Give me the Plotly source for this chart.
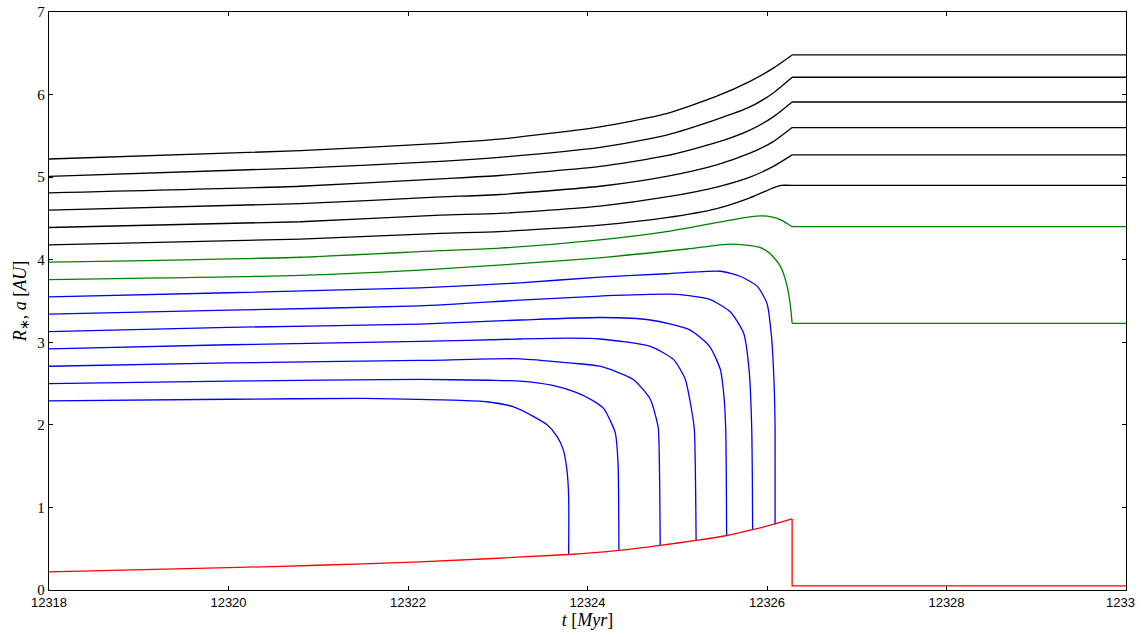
import plotly.graph_objects as go

# ---------------- data ----------------
x_ticks = [12318, 12320, 12322, 12324, 12326, 12328]
x_ticklabels = ["12318", "12320", "12322", "12324", "12326", "12328"]
last_tick_label = "1233"
y_ticks = [0, 1, 2, 3, 4, 5, 6, 7]

black_x = [12318, 12320.8, 12322.36, 12323.02, 12324.14, 12324.88, 12325.44, 12325.81, 12326.07, 12326.28, 12330]
black1_y = [5.22, 5.32, 5.41, 5.46, 5.61, 5.77, 5.98, 6.16, 6.32, 6.48, 6.48]
black2_y = [5.01, 5.11, 5.19, 5.24, 5.36, 5.51, 5.70, 5.85, 6.02, 6.21, 6.21]
black3_y = [4.81, 4.89, 4.98, 5.02, 5.13, 5.26, 5.42, 5.57, 5.73, 5.91, 5.91]
black4_y = [4.60, 4.68, 4.76, 4.79, 4.89, 5.01, 5.15, 5.29, 5.43, 5.60, 5.60]
black5_y = [4.39, 4.46, 4.54, 4.56, 4.65, 4.76, 4.88, 5.00, 5.13, 5.27, 5.27]
black6_x = [12318, 12320.8, 12322.36, 12323.02, 12324.14, 12324.88, 12325.44, 12325.81, 12326.07, 12326.16, 12326.28, 12330]
black6_y = [4.18, 4.25, 4.32, 4.34, 4.42, 4.51, 4.62, 4.75, 4.87, 4.90, 4.90, 4.90]

green1_x = [12318, 12320.8, 12322.36, 12323.02, 12324.14, 12324.88, 12325.44, 12325.81, 12325.94, 12326.05, 12326.16, 12326.28, 12330]
green1_y = [3.97, 4.03, 4.11, 4.14, 4.24, 4.34, 4.45, 4.52, 4.53, 4.52, 4.48, 4.40, 4.40]
green2_x = [12318, 12320.8, 12322.36, 12323.99, 12325.11, 12325.59, 12325.92, 12326.04, 12326.15, 12326.22, 12326.26, 12326.28, 12330]
green2_y = [3.76, 3.81, 3.89, 4.01, 4.13, 4.19, 4.15, 4.07, 3.92, 3.70, 3.45, 3.23, 3.23]

blue1_x = [12318, 12320, 12322.13, 12323.25, 12324.14, 12324.88, 12325.48, 12325.70, 12325.89, 12326.00, 12326.05, 12326.08, 12326.09, 12326.09]
blue1_y = [3.55, 3.60, 3.66, 3.72, 3.79, 3.83, 3.86, 3.80, 3.68, 3.47, 3.07, 2.47, 1.95, 0.80]
blue2_x = [12318, 12320, 12322.13, 12323.25, 12324.14, 12324.99, 12325.36, 12325.59, 12325.74, 12325.80, 12325.83, 12325.84]
blue2_y = [3.34, 3.39, 3.44, 3.51, 3.56, 3.58, 3.52, 3.37, 3.11, 2.67, 1.95, 0.73]
blue3_x = [12318, 12320, 12322.13, 12323.25, 12324.14, 12324.70, 12325.14, 12325.36, 12325.48, 12325.52, 12325.54, 12325.55]
blue3_y = [3.13, 3.18, 3.22, 3.27, 3.30, 3.27, 3.15, 2.95, 2.67, 2.35, 1.95, 0.66]
blue4_x = [12318, 12320, 12322.13, 12323.25, 12323.80, 12324.14, 12324.70, 12324.96, 12325.09, 12325.16, 12325.19, 12325.21]
blue4_y = [2.92, 2.97, 3.01, 3.04, 3.05, 3.04, 2.95, 2.79, 2.55, 2.18, 1.95, 0.60]
blue5_x = [12318, 12320, 12322.13, 12323.25, 12323.80, 12324.14, 12324.51, 12324.70, 12324.77, 12324.79, 12324.81]
blue5_y = [2.71, 2.75, 2.78, 2.80, 2.75, 2.71, 2.55, 2.31, 2.06, 1.95, 0.54]
blue6_x = [12318, 12320, 12322.13, 12322.90, 12323.25, 12323.60, 12323.88, 12324.05, 12324.18, 12324.25, 12324.31, 12324.34, 12324.35]
blue6_y = [2.50, 2.53, 2.55, 2.54, 2.53, 2.48, 2.39, 2.30, 2.20, 2.06, 1.90, 1.54, 0.48]
blue7_x = [12318, 12320, 12321.5, 12322.50, 12322.88, 12323.17, 12323.40, 12323.55, 12323.66, 12323.73, 12323.77, 12323.79, 12323.79]
blue7_y = [2.29, 2.31, 2.32, 2.30, 2.28, 2.22, 2.10, 2.00, 1.86, 1.70, 1.46, 1.14, 0.43]

red_x = [12318, 12320, 12321, 12322.13, 12323.79, 12324.35, 12324.81, 12325.21, 12325.55, 12325.84, 12326.09, 12326.28, 12326.28, 12330]
red_y = [0.22, 0.27, 0.30, 0.34, 0.43, 0.48, 0.54, 0.60, 0.66, 0.73, 0.80, 0.86, 0.05, 0.05]

BLACK, GREEN, BLUE, RED = "black", "#008000", "#0000ff", "#ff0000"

# ---------------- figure ----------------
fig = go.Figure()


def add(xs, ys, col, shape):
    fig.add_trace(go.Scatter(x=xs, y=ys, mode="lines",
                             line=dict(color=col, width=1.3, shape=shape, smoothing=0.6),
                             showlegend=False, hoverinfo="skip"))


# curves that end in a flat plateau: smooth part + straight plateau
for xs, ys, col in [(black_x, black1_y, BLACK), (black_x, black2_y, BLACK), (black_x, black3_y, BLACK),
                    (black_x, black4_y, BLACK), (black_x, black5_y, BLACK), (black6_x, black6_y, BLACK),
                    (green1_x, green1_y, GREEN), (green2_x, green2_y, GREEN)]:
    add(xs[:-1], ys[:-1], col, "spline")
    add(xs[-2:], ys[-2:], col, "linear")

for xs, ys in [(blue1_x, blue1_y), (blue2_x, blue2_y), (blue3_x, blue3_y), (blue4_x, blue4_y),
               (blue5_x, blue5_y), (blue6_x, blue6_y), (blue7_x, blue7_y)]:
    add(xs, ys, BLUE, "spline")

add(red_x[:-2], red_y[:-2], RED, "spline")
add(red_x[-3:], red_y[-3:], RED, "linear")

axis_common = dict(showgrid=False, zeroline=False, showline=True, linecolor="black",
                   linewidth=1.3, mirror="ticks", ticks="inside", ticklen=4,
                   tickwidth=1, tickcolor="black")

fig.update_xaxes(range=[12318, 12330], tickvals=x_ticks, ticktext=x_ticklabels,
                 tickfont=dict(family="Liberation Sans, Arial, sans-serif", size=13, color="black"),
                 title=dict(text="<i>t</i> [<i>Myr</i>]",
                            font=dict(family="Liberation Serif, serif", size=18, color="black"),
                            standoff=4),
                 **axis_common)
fig.update_yaxes(range=[0, 7], tickvals=y_ticks,
                 tickfont=dict(family="Liberation Serif, serif", size=15, color="black"),
                 title=dict(text="<i>R</i><sub>∗</sub>, <i>a</i> [<i>AU</i>]",
                            font=dict(family="Liberation Serif, serif", size=18, color="black"),
                            standoff=6),
                 **axis_common)

fig.add_annotation(text=last_tick_label, xref="paper", yref="paper",
                   x=(1137 - 49) / 1077, y=0, xanchor="right", yanchor="top", yshift=-3,
                   showarrow=False,
                   font=dict(family="Liberation Sans, Arial, sans-serif", size=13, color="black"))

fig.update_layout(width=1142, height=637, plot_bgcolor="white", paper_bgcolor="white",
                  margin=dict(l=49, r=16, t=12, b=47, autoexpand=False))

fig.write_html("out.html", config={"displayModeBar": False},
               post_script="document.body.style.margin='0px';")
